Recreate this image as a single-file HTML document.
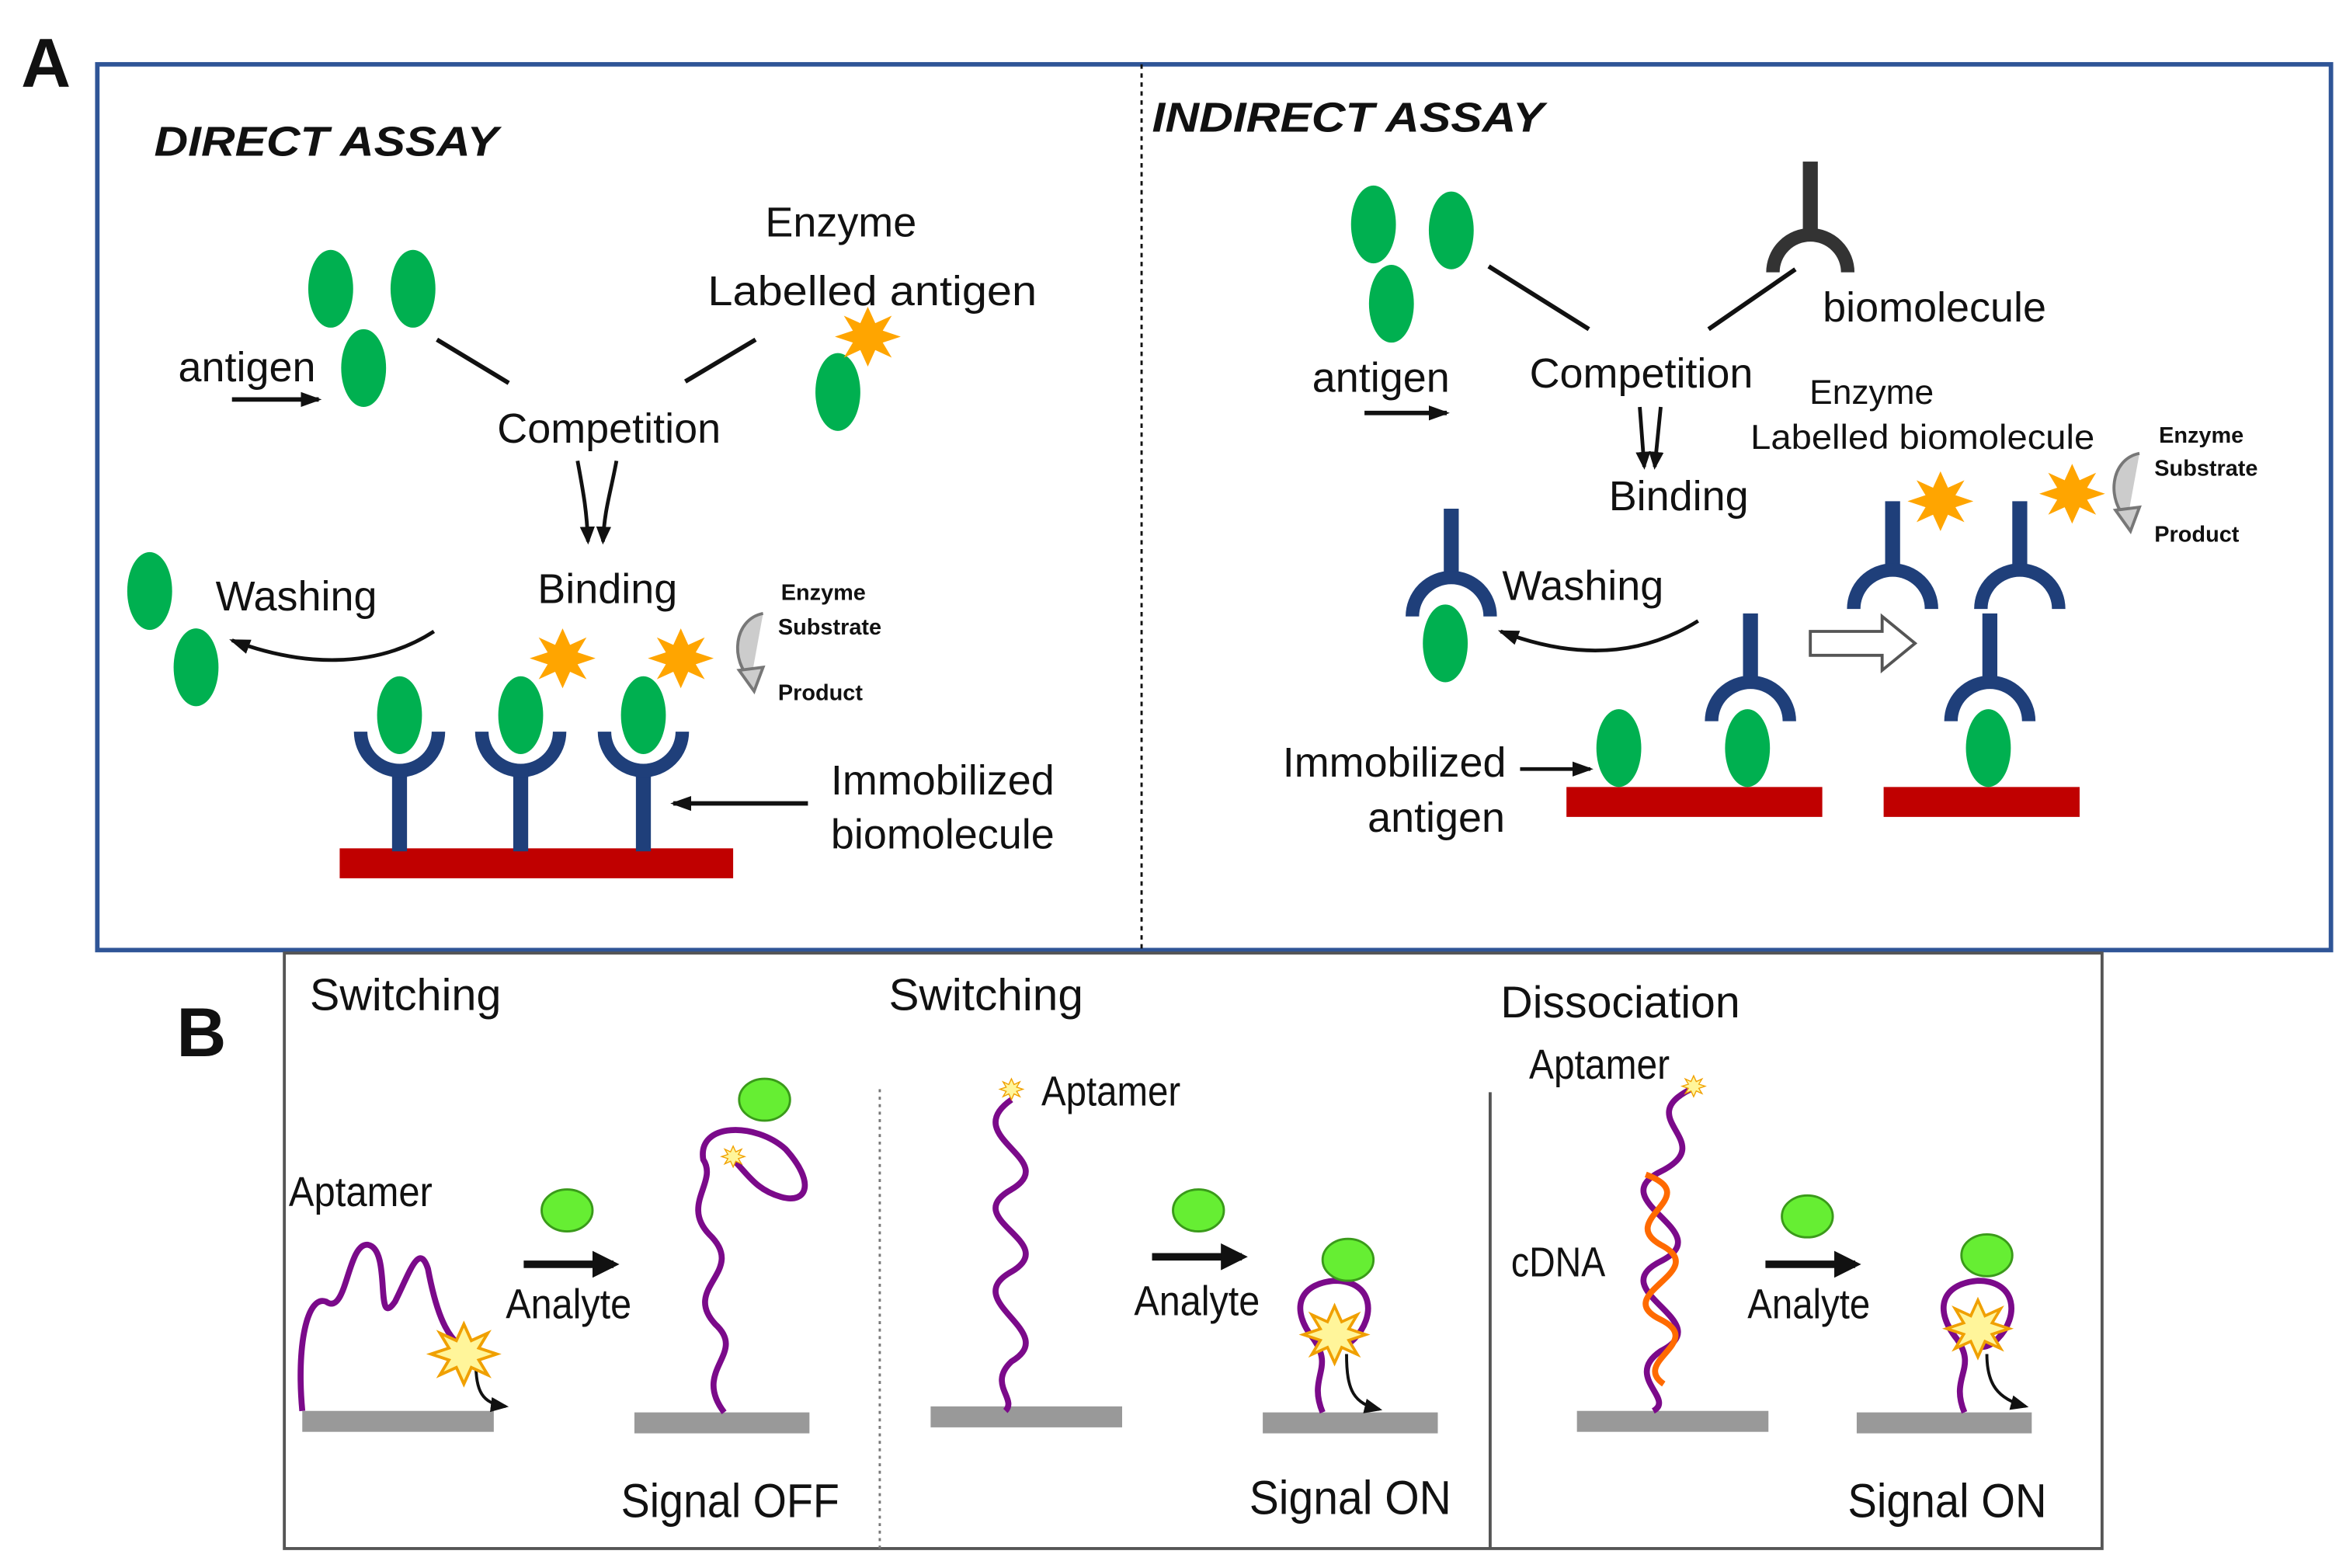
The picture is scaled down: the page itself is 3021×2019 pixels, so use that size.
<!DOCTYPE html>
<html><head><meta charset="utf-8"><style>
html,body{margin:0;padding:0;background:#fff;}
svg{display:block;}
text{font-family:"Liberation Sans",sans-serif;fill:#111;}
</style></head><body>
<svg width="3021" height="2019" viewBox="0 0 1568 1048" xmlns="http://www.w3.org/2000/svg">
<defs>
<marker id="ah" markerWidth="14" markerHeight="12" refX="12" refY="6" orient="auto" markerUnits="userSpaceOnUse"><path d="M0,1 L14,6 L0,11 Z" fill="#111"/></marker>
<marker id="ahs" markerWidth="12" markerHeight="10" refX="10" refY="5" orient="auto" markerUnits="userSpaceOnUse"><path d="M0,0 L12,5 L0,10 Z" fill="#111"/></marker>
<marker id="ahb" markerWidth="18" markerHeight="18" refX="14" refY="9" orient="auto" markerUnits="userSpaceOnUse"><path d="M0,0 L18,9 L0,18 Z" fill="#111"/></marker>
<g id="star"><polygon points="0,-20 5,-9 16,-14 10,-4 22,0 10,4 16,14 5,9 0,20 -5,9 -16,14 -10,4 -22,0 -10,-4 -16,-14 -5,-9" fill="#ffa500"/></g>
<g id="ystar"><polygon points="0,-20 5,-9 16,-14 10,-4 22,0 10,4 16,14 5,9 0,20 -5,9 -16,14 -10,4 -22,0 -10,-4 -16,-14 -5,-9" fill="#fff59a" stroke="#f0a000" stroke-width="2"/></g>
<g id="ab"><rect x="-5" y="-48" width="10" height="50" fill="#1f3f7a"/><path d="M-26,-78 A26,26 0 0 0 26,-78" fill="none" stroke="#1f3f7a" stroke-width="9"/><rect x="-5" y="-55" width="10" height="8" fill="#1f3f7a"/></g>
<g id="abd"><rect x="-5" y="-70" width="10" height="50" fill="#1f3f7a"/><path d="M-26,2 A26,26 0 0 1 26,2" fill="none" stroke="#1f3f7a" stroke-width="9"/></g>
<g id="carr"><path d="M10,-22 C-10,-18 -12,10 2,22" fill="#ccc" stroke="#777" stroke-width="2"/><path d="M-6,16 L4,30 L10,14 Z" fill="#ccc" stroke="#777" stroke-width="2"/></g>
</defs>

<text x="14" y="58" font-size="46" font-weight="bold">A</text>
<rect x="65" y="43" width="1493" height="592" fill="none" stroke="#2f5597" stroke-width="3"/>
<line x1="763" y1="43" x2="763" y2="635" stroke="#111" stroke-width="1.5" stroke-dasharray="3,3"/>

<!-- DIRECT -->
<text x="103" y="104" font-size="28" font-weight="bold" font-style="italic" textLength="230" lengthAdjust="spacingAndGlyphs">DIRECT ASSAY</text>
<g fill="#00b050">
<ellipse cx="221" cy="193" rx="15" ry="26"/><ellipse cx="276" cy="193" rx="15" ry="26"/><ellipse cx="243" cy="246" rx="15" ry="26"/>
<ellipse cx="560" cy="262" rx="15" ry="26"/><ellipse cx="100" cy="395" rx="15" ry="26"/><ellipse cx="131" cy="446" rx="15" ry="26"/>
</g>
<use href="#star" x="580" y="225"/>
<text x="562" y="158" font-size="28" text-anchor="middle">Enzyme</text>
<text x="473" y="204" font-size="28" textLength="220" lengthAdjust="spacingAndGlyphs">Labelled antigen</text>
<text x="165" y="255" font-size="28" text-anchor="middle">antigen</text>
<text x="407" y="296" font-size="28" text-anchor="middle">Competition</text>
<text x="406" y="403" font-size="28" text-anchor="middle">Binding</text>
<text x="198" y="408" font-size="28" text-anchor="middle">Washing</text>
<text x="630" y="531" font-size="28" text-anchor="middle">Immobilized</text>
<text x="630" y="567" font-size="28" text-anchor="middle">biomolecule</text>
<text x="522" y="401" font-size="15" font-weight="bold">Enzyme</text>
<text x="520" y="424" font-size="15" font-weight="bold">Substrate</text>
<text x="520" y="468" font-size="15" font-weight="bold">Product</text>
<use href="#carr" x="500" y="432"/>
<g stroke="#111" stroke-width="3" fill="none">
<line x1="292" y1="227" x2="340" y2="256"/><line x1="458" y1="255" x2="505" y2="227"/>
<line x1="155" y1="267" x2="213" y2="267" marker-end="url(#ah)"/>
<path d="M386,308 C390,330 392,340 393,362" marker-end="url(#ahs)" stroke-width="2.5"/>
<path d="M412,308 C408,330 404,340 403,362" marker-end="url(#ahs)" stroke-width="2.5"/>
<path d="M290,422 C250,448 200,445 155,428" marker-end="url(#ah)" stroke-width="2.5"/>
<line x1="540" y1="537" x2="450" y2="537" marker-end="url(#ah)"/>
</g>
<rect x="227" y="567" width="263" height="20" fill="#c00000"/>
<use href="#ab" x="267" y="567"/><use href="#ab" x="348" y="567"/><use href="#ab" x="430" y="567"/>
<g fill="#00b050"><ellipse cx="267" cy="478" rx="15" ry="26"/><ellipse cx="348" cy="478" rx="15" ry="26"/><ellipse cx="430" cy="478" rx="15" ry="26"/></g>
<use href="#star" x="376" y="440"/><use href="#star" x="455" y="440"/>

<!-- INDIRECT -->
<text x="770" y="88" font-size="28" font-weight="bold" font-style="italic" textLength="262" lengthAdjust="spacingAndGlyphs">INDIRECT ASSAY</text>
<g fill="#00b050">
<ellipse cx="918" cy="150" rx="15" ry="26"/><ellipse cx="970" cy="154" rx="15" ry="26"/><ellipse cx="930" cy="203" rx="15" ry="26"/>
</g>
<g><rect x="1205" y="108" width="10" height="50" fill="#333"/><path d="M1185,182 A25,25 0 0 1 1235,182" fill="none" stroke="#333" stroke-width="9"/></g>
<text x="1293" y="215" font-size="28" text-anchor="middle">biomolecule</text>
<text x="923" y="262" font-size="28" text-anchor="middle">antigen</text>
<text x="1097" y="259" font-size="28" text-anchor="middle">Competition</text>
<text x="1251" y="270" font-size="23" text-anchor="middle">Enzyme</text>
<text x="1170" y="300" font-size="23" textLength="230" lengthAdjust="spacingAndGlyphs">Labelled biomolecule</text>
<text x="1122" y="341" font-size="28" text-anchor="middle">Binding</text>
<text x="1058" y="401" font-size="28" text-anchor="middle">Washing</text>
<text x="932" y="519" font-size="28" text-anchor="middle">Immobilized</text>
<text x="960" y="556" font-size="28" text-anchor="middle">antigen</text>
<text x="1443" y="296" font-size="15" font-weight="bold">Enzyme</text>
<text x="1440" y="318" font-size="15" font-weight="bold">Substrate</text>
<text x="1440" y="362" font-size="15" font-weight="bold">Product</text>
<use href="#carr" x="1420" y="325"/>
<g stroke="#111" stroke-width="3" fill="none">
<line x1="995" y1="178" x2="1062" y2="220"/><line x1="1142" y1="220" x2="1200" y2="180"/>
<line x1="912" y1="276" x2="967" y2="276" marker-end="url(#ah)"/>
<path d="M1096,272 L1099,312" marker-end="url(#ahs)" stroke-width="2.5"/>
<path d="M1110,272 L1106,312" marker-end="url(#ahs)" stroke-width="2.5"/>
<path d="M1135,415 C1095,440 1050,440 1003,422" marker-end="url(#ah)" stroke-width="2.5"/>
<line x1="1016" y1="514" x2="1063" y2="514" marker-end="url(#ah)" stroke-width="2.5"/>
</g>
<path d="M1210,422 L1258,422 L1258,412 L1280,430 L1258,448 L1258,438 L1210,438 Z" fill="#fff" stroke="#555" stroke-width="2"/>
<rect x="1047" y="526" width="171" height="20" fill="#c00000"/>
<rect x="1259" y="526" width="131" height="20" fill="#c00000"/>
<use href="#abd" x="970" y="410"/><use href="#abd" x="1170" y="480"/>
<use href="#abd" x="1265" y="405"/><use href="#abd" x="1350" y="405"/><use href="#abd" x="1330" y="480"/>
<g fill="#00b050">
<ellipse cx="966" cy="430" rx="15" ry="26"/><ellipse cx="1082" cy="500" rx="15" ry="26"/><ellipse cx="1168" cy="500" rx="15" ry="26"/><ellipse cx="1329" cy="500" rx="15" ry="26"/>
</g>
<use href="#star" x="1297" y="335"/><use href="#star" x="1385" y="330"/>

<!-- B -->
<text x="118" y="706" font-size="46" font-weight="bold">B</text>
<rect x="190" y="637" width="1215" height="398" fill="none" stroke="#555" stroke-width="2"/>
<line x1="588" y1="728" x2="588" y2="1035" stroke="#777" stroke-width="1.5" stroke-dasharray="2,3"/>
<line x1="996" y1="730" x2="996" y2="1035" stroke="#555" stroke-width="2"/>
<text x="207" y="675" font-size="30" textLength="128" lengthAdjust="spacingAndGlyphs">Switching</text>
<text x="594" y="675" font-size="30" textLength="130" lengthAdjust="spacingAndGlyphs">Switching</text>
<text x="1003" y="680" font-size="30" textLength="160" lengthAdjust="spacingAndGlyphs">Dissociation</text>
<g fill="#999">
<rect x="202" y="943" width="128" height="14"/><rect x="424" y="944" width="117" height="14"/>
<rect x="622" y="940" width="128" height="14"/><rect x="844" y="944" width="117" height="14"/>
<rect x="1054" y="943" width="128" height="14"/><rect x="1241" y="944" width="117" height="14"/>
</g>
<g fill="none">
<line x1="350" y1="845" x2="410" y2="845" stroke="#111" stroke-width="5" marker-end="url(#ahb)"/>
<line x1="770" y1="840" x2="830" y2="840" stroke="#111" stroke-width="5" marker-end="url(#ahb)"/>
<line x1="1180" y1="845" x2="1240" y2="845" stroke="#111" stroke-width="5" marker-end="url(#ahb)"/>
</g>
<g font-size="28">
<text x="193" y="806" textLength="96" lengthAdjust="spacingAndGlyphs">Aptamer</text>
<text x="338" y="881" textLength="84" lengthAdjust="spacingAndGlyphs">Analyte</text>
<text x="415" y="1014" font-size="32" textLength="146" lengthAdjust="spacingAndGlyphs">Signal OFF</text>
<text x="696" y="739" textLength="93" lengthAdjust="spacingAndGlyphs">Aptamer</text>
<text x="758" y="879" textLength="84" lengthAdjust="spacingAndGlyphs">Analyte</text>
<text x="835" y="1012" font-size="32" textLength="135" lengthAdjust="spacingAndGlyphs">Signal ON</text>
<text x="1022" y="721" textLength="94" lengthAdjust="spacingAndGlyphs">Aptamer</text>
<text x="1010" y="853" textLength="63" lengthAdjust="spacingAndGlyphs">cDNA</text>
<text x="1168" y="881" textLength="82" lengthAdjust="spacingAndGlyphs">Analyte</text>
<text x="1235" y="1014" font-size="32" textLength="133" lengthAdjust="spacingAndGlyphs">Signal ON</text>
</g>
<g fill="none" stroke="#7b0a8a" stroke-width="4">
<path d="M202,943 C198,900 205,865 218,870 C232,880 232,830 246,832 C262,835 250,890 264,870 C274,850 280,830 286,848 C292,880 300,900 318,905"/>
<path d="M484,944 C462,915 500,905 478,885 C455,860 500,850 474,825 C455,805 480,790 470,775 C466,750 505,750 525,768 C545,790 540,805 522,800 C505,795 500,785 490,775"/>
<path d="M676,735 C640,760 710,775 676,795 C640,815 710,830 676,850 C640,870 710,890 676,910 C660,925 680,935 672,943"/>
<path d="M884,944 C874,920 892,915 878,895 C862,875 868,858 892,856 C918,856 920,880 905,895 C895,905 885,900 888,885"/>
<path d="M1130,728 C1090,748 1150,763 1110,783 C1070,803 1150,823 1110,843 C1070,863 1150,883 1110,903 C1085,920 1120,935 1105,943"/>
<path d="M1313,944 C1303,920 1322,915 1308,895 C1292,875 1298,858 1322,856 C1348,856 1350,880 1335,895 C1325,905 1315,900 1318,885"/>
</g>
<path d="M1100,785 C1140,800 1080,815 1110,832 C1145,850 1075,865 1110,882 C1140,897 1090,910 1112,925" fill="none" stroke="#ff6a00" stroke-width="4"/>
<g fill="none" stroke="#111" stroke-width="2">
<path d="M318,910 C318,930 322,938 338,940" marker-end="url(#ahs)"/>
<path d="M900,905 C900,930 905,938 922,942" marker-end="url(#ahs)"/>
<path d="M1328,905 C1328,925 1335,935 1354,940" marker-end="url(#ahs)"/>
</g>
<use href="#ystar" x="310" y="905"/>
<use href="#ystar" transform="translate(892,892) scale(0.95)"/>
<use href="#ystar" transform="translate(1322,888) scale(0.95)"/>
<use href="#ystar" transform="translate(490,773) scale(0.35)"/>
<use href="#ystar" transform="translate(676,728) scale(0.35)"/>
<use href="#ystar" transform="translate(1132,726) scale(0.35)"/>
<g fill="#66ee33" stroke="#3a9a1a" stroke-width="1.5">
<ellipse cx="379" cy="809" rx="17" ry="14"/><ellipse cx="511" cy="735" rx="17" ry="14"/>
<ellipse cx="801" cy="809" rx="17" ry="14"/><ellipse cx="901" cy="842" rx="17" ry="14"/>
<ellipse cx="1208" cy="813" rx="17" ry="14"/><ellipse cx="1328" cy="839" rx="17" ry="14"/>
</g>
</svg>
</body></html>
